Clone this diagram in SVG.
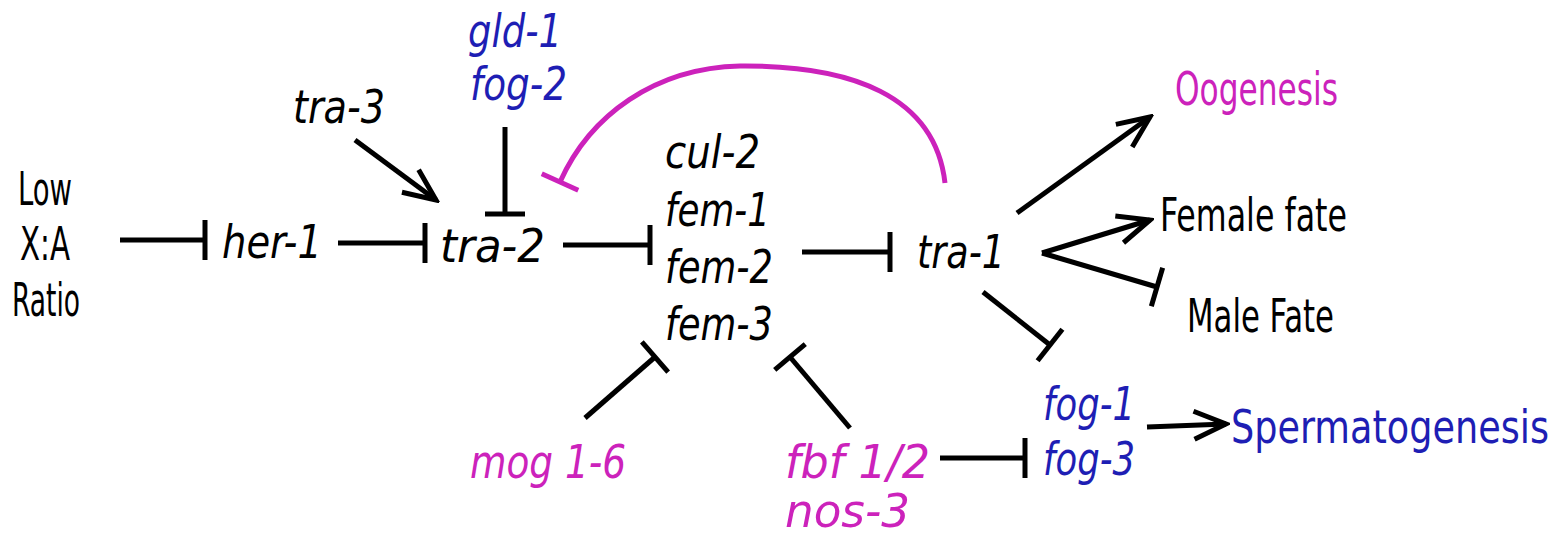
<svg xmlns="http://www.w3.org/2000/svg" width="1566" height="537" viewBox="0 0 1566 537">
<style>
text{font-family:"DejaVu Sans Condensed","DejaVu Sans","Liberation Sans",sans-serif;font-size:46px;fill:#000}
.i{font-style:italic}
.blue{fill:#1e1eb4}
.mag{fill:#cc22bb}
.c{text-anchor:middle}
.ln{stroke:#000;stroke-width:5;fill:none;stroke-linecap:butt}
.mg{stroke:#cc22bb}
</style>
<defs>
<marker id="arrow" viewBox="0 0 20 20" refX="18" refY="10" markerWidth="40" markerHeight="40" markerUnits="userSpaceOnUse" orient="auto">
<path d="M2,3 L18,10 L2,17" fill="none" stroke="#000" stroke-width="2.5"/>
</marker>
<marker id="bar" viewBox="-4 -22 8 44" refX="0" refY="0" markerWidth="8" markerHeight="44" markerUnits="userSpaceOnUse" orient="auto">
<path d="M0,-20 V20" stroke="#000" stroke-width="5"/>
</marker>
<marker id="barm" viewBox="-4 -22 8 44" refX="0" refY="0" markerWidth="8" markerHeight="44" markerUnits="userSpaceOnUse" orient="auto">
<path d="M0,-20 V20" stroke="#cc22bb" stroke-width="5"/>
</marker>
</defs>
<g id="connectors">
<line class="ln" x1="120" y1="240" x2="205" y2="240" marker-end="url(#bar)"/>
<line class="ln" x1="338" y1="243" x2="425" y2="243" marker-end="url(#bar)"/>
<line class="ln" x1="355" y1="140" x2="436" y2="200" marker-end="url(#arrow)"/>
<line class="ln" x1="505" y1="127" x2="505" y2="214" marker-end="url(#bar)"/>
<path class="ln mg" d="M945,183 C935,95 850,65 740,66 C655,68 590,115 560,182" marker-end="url(#barm)"/>
<line class="ln" x1="563" y1="245" x2="650" y2="245" marker-end="url(#bar)"/>
<line class="ln" x1="802" y1="252" x2="890" y2="252" marker-end="url(#bar)"/>
<line class="ln" x1="1017" y1="213" x2="1150" y2="117" marker-end="url(#arrow)"/>
<line class="ln" x1="1042" y1="253" x2="1150" y2="220" marker-end="url(#arrow)"/>
<line class="ln" x1="1042" y1="253" x2="1157" y2="287" marker-end="url(#bar)"/>
<line class="ln" x1="983" y1="292" x2="1050" y2="345" marker-end="url(#bar)"/>
<line class="ln" x1="585" y1="418" x2="655" y2="357" marker-end="url(#bar)"/>
<line class="ln" x1="850" y1="428" x2="790" y2="357" marker-end="url(#bar)"/>
<line class="ln" x1="940" y1="458" x2="1025" y2="458" marker-end="url(#bar)"/>
<line class="ln" x1="1147" y1="427" x2="1226" y2="424" marker-end="url(#arrow)"/>
</g>
<g id="lowxa"><text class="c" x="45" y="205" textLength="54" lengthAdjust="spacingAndGlyphs">Low</text><text class="c" x="45" y="260" textLength="50" lengthAdjust="spacingAndGlyphs">X:A</text><text class="c" x="46" y="316" textLength="68" lengthAdjust="spacingAndGlyphs">Ratio</text></g>
<g id="her1"><text class="i" x="222" y="258" textLength="100" lengthAdjust="spacingAndGlyphs">her-1</text></g>
<g id="tra2"><text class="i" x="440" y="262" textLength="105" lengthAdjust="spacingAndGlyphs">tra-2</text></g>
<g id="tra3"><text class="i" x="293" y="123" textLength="92" lengthAdjust="spacingAndGlyphs">tra-3</text></g>
<g id="gld1fog2"><text class="i blue" x="468" y="47" textLength="94" lengthAdjust="spacingAndGlyphs">gld-1</text><text class="i blue" x="470" y="100" textLength="97" lengthAdjust="spacingAndGlyphs">fog-2</text></g>
<g id="fem"><text class="i" x="665" y="168" textLength="95" lengthAdjust="spacingAndGlyphs">cul-2</text><text class="i" x="665" y="226" textLength="105" lengthAdjust="spacingAndGlyphs">fem-1</text><text class="i" x="665" y="283" textLength="108" lengthAdjust="spacingAndGlyphs">fem-2</text><text class="i" x="665" y="340" textLength="108" lengthAdjust="spacingAndGlyphs">fem-3</text></g>
<g id="tra1"><text class="i" x="917" y="268" textLength="88" lengthAdjust="spacingAndGlyphs">tra-1</text></g>
<g id="oogenesis"><text class="mag" x="1175" y="105" textLength="163" lengthAdjust="spacingAndGlyphs">Oogenesis</text></g>
<g id="female"><text x="1160" y="231" textLength="187" lengthAdjust="spacingAndGlyphs">Female fate</text></g>
<g id="male"><text x="1187" y="332" textLength="147" lengthAdjust="spacingAndGlyphs">Male Fate</text></g>
<g id="mog"><text class="i mag" x="470" y="478" textLength="156" lengthAdjust="spacingAndGlyphs">mog 1-6</text></g>
<g id="fbf"><text class="i mag" x="785" y="478" textLength="145" lengthAdjust="spacingAndGlyphs">fbf 1/2</text><text class="i mag" x="785" y="527" textLength="125" lengthAdjust="spacingAndGlyphs">nos-3</text></g>
<g id="fog"><text class="i blue" x="1043" y="420" textLength="92" lengthAdjust="spacingAndGlyphs">fog-1</text><text class="i blue" x="1043" y="475" textLength="92" lengthAdjust="spacingAndGlyphs">fog-3</text></g>
<g id="sperm"><text class="blue" transform="translate(1231,443) scale(1,1.21)" x="0" y="0" style="font-size:38px" textLength="318" lengthAdjust="spacingAndGlyphs">Spermatogenesis</text></g>
</svg>
